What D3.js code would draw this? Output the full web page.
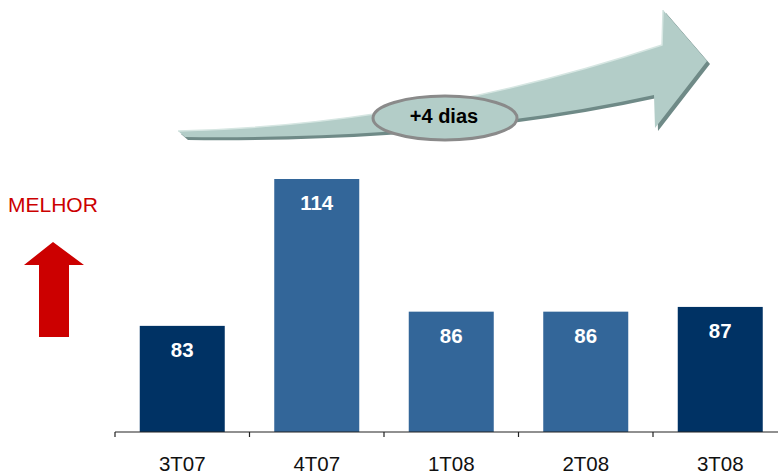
<!DOCTYPE html>
<meta charset="utf-8">
<script src="https://d3js.org/d3.v7.min.js"></script>
<style>
  body { margin: 0; background: #fff; }
</style>
<div id="chart"></div>
<script>
    // data
    const categories = ["3T07", "4T07", "1T08", "2T08", "3T08"];
    const values = [83, 114, 86, 86, 87];
    const changeLabel = "+4 dias";
    const betterLabel = "MELHOR";

    const width = 778;
    const height = 473;
    const font = "Liberation Sans, Arial, sans-serif";

    const svg = d3.select("#chart")
        .append("svg")
        .attr("width", width)
        .attr("height", height)
        .style("font-family", font);

    // scales (baseline of the chart is not zero)
    const x = d3.scaleBand()
        .domain(categories)
        .range([115, 787.5]);

    const y = d3.scaleLinear()
        .domain([60.6, 114])
        .range([432, 179]);

    const barW = 85;

    // bars - same quarter of each year in dark, the rest in lighter blue
    svg.append("g")
        .selectAll("rect")
        .data(values)
        .join("rect")
        .attr("x", (d, i) => x(categories[i]) + x.bandwidth() / 2 - barW / 2)
        .attr("y", d => y(d))
        .attr("width", barW)
        .attr("height", d => y.range()[0] - y(d))
        .attr("fill", (d, i) => categories[i].startsWith("3T") ? "#003264" : "#336699");

    svg.append("g")
        .selectAll("text")
        .data(values)
        .join("text")
        .attr("x", (d, i) => x(categories[i]) + x.bandwidth() / 2)
        .attr("y", d => y(d) + 31)
        .attr("text-anchor", "middle")
        .attr("fill", "#fff")
        .attr("font-weight", "bold")
        .attr("font-size", 20.5)
        .text(d => d);

    // x axis
    const axis = svg.append("g")
        .attr("transform", `translate(0,${y.range()[0]})`);

    axis.append("line")
        .attr("x1", x.range()[0])
        .attr("x2", width)
        .attr("stroke", "#222")
        .attr("stroke-width", 1.2);

    axis.selectAll(".tick")
        .data(categories)
        .join("line")
        .attr("class", "tick")
        .attr("x1", d => x(d))
        .attr("x2", d => x(d))
        .attr("y1", 0)
        .attr("y2", 5)
        .attr("stroke", "#222")
        .attr("stroke-width", 1.2);

    axis.selectAll(".lbl")
        .data(categories)
        .join("text")
        .attr("class", "lbl")
        .attr("x", d => x(d) + x.bandwidth() / 2)
        .attr("y", 38.5)
        .attr("text-anchor", "middle")
        .attr("font-size", 20.5)
        .attr("fill", "#111")
        .text(d => d);

    // "MELHOR" + red up arrow
    svg.append("text")
        .attr("x", 8)
        .attr("y", 212)
        .attr("font-size", 21)
        .attr("fill", "#cc0000")
        .text(betterLabel);

    svg.append("path")
        .attr("d", "M53,242 L84,265 L69,265 L69,337 L39,337 L39,265 L24,265 Z")
        .attr("fill", "#cc0000");

    // big curved trend arrow
    const arrowPath = "M178,131 Q420,125 662,45 L663,10 L707,61 L655,128 L654,95 Q450,140 185,137 Z";

    svg.append("path")
        .attr("d", arrowPath)
        .attr("transform", "translate(3,3)")
        .attr("fill", "#6f8a87");

    svg.append("path")
        .attr("d", arrowPath)
        .attr("fill", "#b3cdc8");

    svg.append("path")
        .attr("d", "M178,131 Q420,125 662,45 L663,10")
        .attr("fill", "none")
        .attr("stroke", "#d6e6e2")
        .attr("stroke-width", 1.5);

    svg.append("ellipse")
        .attr("cx", 445)
        .attr("cy", 118)
        .attr("rx", 72)
        .attr("ry", 22)
        .attr("fill", "#b3cdc8")
        .attr("stroke", "#8a8a8a")
        .attr("stroke-width", 3);

    svg.append("text")
        .attr("x", 444)
        .attr("y", 123)
        .attr("text-anchor", "middle")
        .attr("font-size", 20)
        .attr("font-weight", "bold")
        .attr("fill", "#000")
        .text(changeLabel);
</script>
